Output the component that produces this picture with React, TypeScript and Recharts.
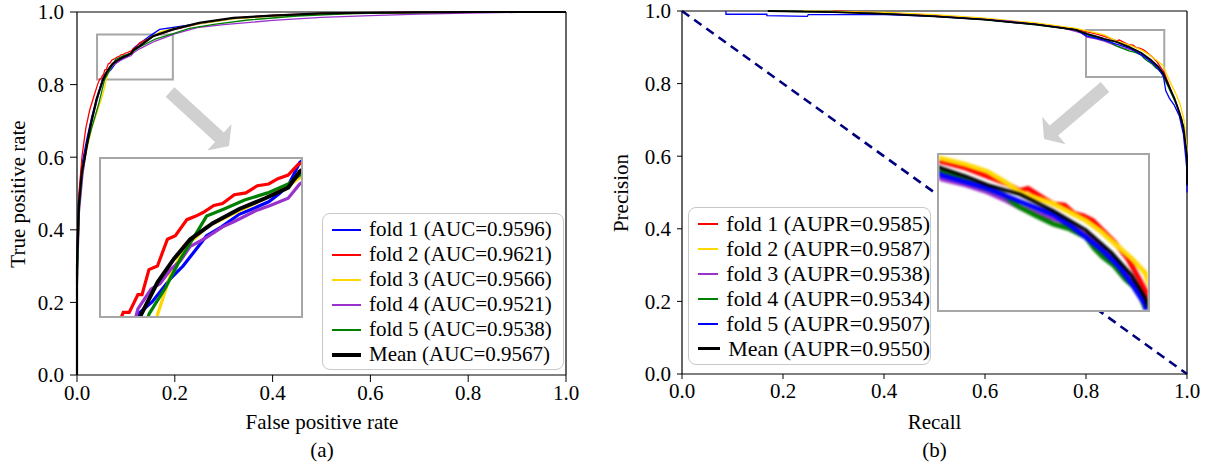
import React from 'react'
import { LineChart, Line, XAxis, YAxis, ReferenceLine, ReferenceArea, Legend } from 'recharts'

type Pt = [number, number]

const TICKS = [0, 0.2, 0.4, 0.6, 0.8, 1.0]

// ROC curves, [false positive rate, true positive rate]
const ROC_FOLD1: Pt[] = [
  [0, 0], [0, 0.35], [0.003, 0.48], [0.01, 0.58], [0.02, 0.65], [0.03, 0.71], [0.04, 0.76], [0.0524, 0.815],
  [0.058, 0.822], [0.0651, 0.835], [0.07, 0.842], [0.0792, 0.859], [0.085, 0.864], [0.0919, 0.871], [0.097, 0.874],
  [0.1034, 0.878], [0.107, 0.882], [0.111, 0.887], [0.1155, 0.9], [0.12, 0.905], [0.13, 0.915], [0.15, 0.935],
  [0.169, 0.952], [0.2, 0.958], [0.25, 0.968], [0.32, 0.982], [0.4, 0.99], [0.5, 0.995], [0.6, 0.998], [0.8, 1], [1, 1],
]
const ROC_FOLD2: Pt[] = [
  [0, 0], [0, 0.3], [0.004, 0.5], [0.01, 0.6], [0.018, 0.68], [0.026, 0.73], [0.035, 0.77], [0.042, 0.8],
  [0.0467, 0.816], [0.049, 0.816], [0.0524, 0.826], [0.054, 0.826], [0.0567, 0.84], [0.06, 0.842], [0.0639, 0.857],
  [0.067, 0.859], [0.0715, 0.868], [0.075, 0.87], [0.0778, 0.872], [0.082, 0.876], [0.0854, 0.877], [0.09, 0.882],
  [0.0945, 0.883], [0.099, 0.887], [0.1034, 0.888], [0.107, 0.891], [0.111, 0.893], [0.1149, 0.899], [0.12, 0.902],
  [0.128, 0.915], [0.16, 0.935], [0.2, 0.952], [0.25, 0.968], [0.32, 0.983], [0.4, 0.991], [0.5, 0.996], [0.6, 0.998],
  [0.75, 1], [1, 1],
]
const ROC_FOLD3: Pt[] = [
  [0, 0], [0, 0.25], [0.005, 0.46], [0.012, 0.56], [0.02, 0.62], [0.03, 0.68], [0.04, 0.72], [0.05, 0.76],
  [0.056, 0.79], [0.0601, 0.815], [0.0651, 0.837], [0.068, 0.845], [0.0701, 0.853], [0.075, 0.858], [0.0792, 0.864],
  [0.085, 0.868], [0.0919, 0.873], [0.098, 0.877], [0.1045, 0.882], [0.11, 0.886], [0.1149, 0.891], [0.12, 0.896],
  [0.13, 0.91], [0.17, 0.945], [0.2, 0.955], [0.25, 0.967], [0.32, 0.981], [0.4, 0.989], [0.5, 0.994], [0.6, 0.997],
  [0.8, 1], [1, 1],
]
const ROC_FOLD4: Pt[] = [
  [0, 0], [0, 0.22], [0.005, 0.45], [0.012, 0.55], [0.02, 0.63], [0.03, 0.7], [0.04, 0.75], [0.0524, 0.818],
  [0.0575, 0.829], [0.061, 0.832], [0.0651, 0.84], [0.069, 0.845], [0.0728, 0.853], [0.078, 0.857], [0.0854, 0.864],
  [0.09, 0.867], [0.0983, 0.873], [0.104, 0.876], [0.111, 0.88], [0.1155, 0.888], [0.12, 0.892], [0.13, 0.9],
  [0.16, 0.92], [0.2, 0.94], [0.25, 0.958], [0.3, 0.965], [0.4, 0.977], [0.5, 0.985], [0.6, 0.99], [0.7, 0.994],
  [0.8, 0.997], [0.9, 0.999], [1, 1],
]
const ROC_FOLD5: Pt[] = [
  [0, 0], [0, 0.2], [0.004, 0.45], [0.01, 0.55], [0.02, 0.63], [0.03, 0.68], [0.045, 0.75], [0.0567, 0.815],
  [0.0632, 0.83], [0.069, 0.846], [0.075, 0.86], [0.0792, 0.87], [0.086, 0.874], [0.094, 0.879], [0.103, 0.883],
  [0.111, 0.888], [0.1155, 0.893], [0.13, 0.905], [0.16, 0.925], [0.2, 0.942], [0.23, 0.955], [0.28, 0.966],
  [0.35, 0.978], [0.45, 0.989], [0.55, 0.995], [0.7, 0.999], [0.85, 1], [1, 1],
]
const ROC_MEAN: Pt[] = [
  [0, 0], [0, 0.3], [0.004, 0.47], [0.01, 0.56], [0.016, 0.6], [0.026, 0.676], [0.04, 0.76], [0.0537, 0.815],
  [0.0601, 0.833], [0.0664, 0.846], [0.0728, 0.857], [0.0816, 0.866], [0.0919, 0.874], [0.1021, 0.88], [0.111, 0.886],
  [0.1155, 0.895], [0.128, 0.906], [0.155, 0.933], [0.196, 0.952], [0.25, 0.97], [0.32, 0.984], [0.4, 0.99],
  [0.5, 0.996], [0.6, 0.998], [0.7, 0.999], [0.8, 1], [1, 1],
]
const ROC_AUC = [0.9596, 0.9621, 0.9566, 0.9521, 0.9538, 0.9567]

// PR curves, [recall, precision]
const PR_FOLD1: Pt[] = [
  [0.3, 1], [0.4, 0.995], [0.5, 0.988], [0.6, 0.978], [0.7, 0.965], [0.78, 0.95], [0.8, 0.943], [0.82, 0.937],
  [0.836, 0.93], [0.85, 0.924], [0.86, 0.918], [0.866, 0.92], [0.873, 0.915], [0.88, 0.91], [0.885, 0.907],
  [0.893, 0.906], [0.9, 0.899], [0.907, 0.897], [0.914, 0.893], [0.922, 0.884], [0.93, 0.875], [0.94, 0.861],
  [0.948, 0.845], [0.955, 0.83], [0.962, 0.805], [0.97, 0.775], [0.98, 0.74], [0.99, 0.69], [0.997, 0.64],
  [1, 0.58], [1, 0.53],
]
const PR_FOLD2: Pt[] = [
  [0.24, 1], [0.4, 0.996], [0.5, 0.99], [0.6, 0.98], [0.7, 0.967], [0.78, 0.952], [0.802, 0.945], [0.82, 0.94],
  [0.836, 0.934], [0.848, 0.926], [0.86, 0.917], [0.872, 0.912], [0.885, 0.907], [0.897, 0.9], [0.909, 0.893],
  [0.92, 0.884], [0.933, 0.871], [0.943, 0.861], [0.953, 0.849], [0.96, 0.825], [0.968, 0.8], [0.977, 0.775],
  [0.986, 0.745], [0.994, 0.7], [1, 0.62], [1, 0.55],
]
const PR_FOLD3: Pt[] = [
  [0.35, 0.995], [0.45, 0.99], [0.55, 0.982], [0.65, 0.972], [0.75, 0.955], [0.79, 0.94], [0.802, 0.928],
  [0.82, 0.923], [0.836, 0.917], [0.848, 0.911], [0.86, 0.904], [0.875, 0.898], [0.89, 0.893], [0.9, 0.887],
  [0.91, 0.88], [0.92, 0.871], [0.93, 0.86], [0.94, 0.846], [0.95, 0.83], [0.96, 0.8], [0.97, 0.77], [0.98, 0.74],
  [0.99, 0.7], [1, 0.6], [1, 0.52],
]
const PR_FOLD4: Pt[] = [
  [0.17, 1], [0.3, 0.997], [0.4, 0.993], [0.5, 0.985], [0.6, 0.976], [0.7, 0.962], [0.78, 0.948], [0.802, 0.935],
  [0.825, 0.924], [0.848, 0.915], [0.855, 0.908], [0.86, 0.904], [0.872, 0.897], [0.885, 0.89], [0.897, 0.886],
  [0.909, 0.879], [0.915, 0.87], [0.921, 0.863], [0.93, 0.855], [0.938, 0.844], [0.944, 0.838], [0.95, 0.828],
  [0.96, 0.8], [0.97, 0.77], [0.98, 0.74], [0.99, 0.7], [1, 0.6], [1, 0.52],
]
const PR_FOLD5: Pt[] = [
  [0.087, 1], [0.087, 0.991], [0.168, 0.991], [0.168, 0.987], [0.248, 0.985], [0.25, 0.99], [0.4, 0.99],
  [0.5, 0.985], [0.6, 0.976], [0.7, 0.963], [0.78, 0.948], [0.802, 0.931], [0.836, 0.92], [0.86, 0.909],
  [0.885, 0.898], [0.897, 0.889], [0.909, 0.879], [0.921, 0.868], [0.933, 0.855], [0.943, 0.84], [0.953, 0.822],
  [0.958, 0.78], [0.965, 0.76], [0.975, 0.74], [0.985, 0.71], [0.993, 0.66], [1, 0.56], [1, 0.5],
]
const PR_MEAN: Pt[] = [
  [0.17, 1], [0.3, 0.997], [0.4, 0.992], [0.5, 0.985], [0.6, 0.976], [0.7, 0.963], [0.78, 0.948], [0.802, 0.937],
  [0.82, 0.93], [0.836, 0.923], [0.86, 0.915], [0.885, 0.901], [0.909, 0.885], [0.928, 0.866], [0.943, 0.847],
  [0.953, 0.828], [0.965, 0.79], [0.975, 0.76], [0.985, 0.72], [0.993, 0.68], [1, 0.6], [1, 0.52],
]
const PR_BASELINE: Pt[] = [[0, 1], [1, 0]]
const PR_AUPR = [0.9585, 0.9587, 0.9538, 0.9534, 0.9507, 0.955]

const SERIES_NAMES = ['fold 1', 'fold 2', 'fold 3', 'fold 4', 'fold 5', 'Mean']
const ROC_COLORS = ['#0000ff', '#ff0000', '#ffd700', '#9932cc', '#008000', '#000000']
const PR_COLORS = ['#ff0000', '#ffd700', '#9932cc', '#008000', '#0000ff', '#000000']

const ROC_SERIES = [ROC_FOLD1, ROC_FOLD2, ROC_FOLD3, ROC_FOLD4, ROC_FOLD5, ROC_MEAN]
const PR_SERIES = [PR_FOLD1, PR_FOLD2, PR_FOLD3, PR_FOLD4, PR_FOLD5, PR_MEAN]

const rows = (pts: Pt[]) => pts.map(([x, y]) => ({ x, y }))

const FONT = '"Liberation Serif", "Times New Roman", serif'
const FRAME = '#a6a6a6'
const ARROW = '#d0d0d0'

const axisProps = (tickSize: number, tickMargin: number) => ({
  type: 'number' as const,
  domain: [0, 1],
  ticks: TICKS,
  interval: 0 as const,
  tickFormatter: (v: number) => v.toFixed(1),
  tick: { fontSize: 21, fill: '#000' },
  tickLine: { stroke: '#000' },
  axisLine: { stroke: '#000', strokeWidth: 1.2 },
  tickSize,
  tickMargin,
})

function LegendBox({ labels, colors, widths, width, height, fontSize }: {
  labels: string[]; colors: string[]; widths: number[]; width: number; height: number; fontSize: number
}) {
  return (
    <div style={{
      width, height, boxSizing: 'border-box', border: '1.5px solid #c8c8c8', borderRadius: 8,
      background: 'rgba(255,255,255,0.85)', paddingTop: 3, fontSize, color: '#000', fontFamily: FONT,
    }}>
      {labels.map((l, i) => (
        <div key={i} style={{ display: 'flex', alignItems: 'center', height: 25 }}>
          <span style={{ display: 'inline-block', width: 29, height: widths[i], background: colors[i], marginLeft: 9, marginRight: 8 }} />
          <span style={{ whiteSpace: 'nowrap' }}>{l}</span>
        </div>
      ))}
    </div>
  )
}

function arrowPoints(sx: number, sy: number, tx: number, ty: number, w: number, hw: number, hl: number) {
  const len = Math.hypot(tx - sx, ty - sy)
  const ux = (tx - sx) / len
  const uy = (ty - sy) / len
  const nx = -uy
  const ny = ux
  const bx = tx - ux * hl
  const by = ty - uy * hl
  const p = [
    [sx + nx * w, sy + ny * w],
    [bx + nx * w, by + ny * w],
    [bx + nx * hw, by + ny * hw],
    [tx, ty],
    [bx - nx * hw, by - ny * hw],
    [bx - nx * w, by - ny * w],
    [sx - nx * w, sy - ny * w],
  ]
  return p.map((q) => q.join(',')).join(' ')
}

function RocPanel() {
  const labels = SERIES_NAMES.map((n, i) => `${n} (AUC=${ROC_AUC[i].toFixed(4)})`)
  return (
    <div style={{ position: 'absolute', left: 0, top: 0 }}>
      <LineChart width={600} height={464} margin={{ top: 12, right: 34, bottom: 59, left: 17 }}>
        <XAxis dataKey="x" height={30} {...axisProps(7, 3)} />
        <YAxis dataKey="y" width={60} {...axisProps(7, 6)} />
        <ReferenceLine y={1} stroke="#000" strokeWidth={1.2} />
        <ReferenceLine x={1} stroke="#000" strokeWidth={1.2} />
        {ROC_SERIES.map((s, i) => (
          <Line key={i} data={rows(s)} dataKey="y" name={labels[i]} stroke={ROC_COLORS[i]}
            strokeWidth={i === 5 ? 2.2 : 1.3} dot={false} activeDot={false} isAnimationActive={false} />
        ))}
        <ReferenceArea x1={0.041} x2={0.196} y1={0.814} y2={0.938} fill="none" stroke={FRAME} strokeWidth={2} />
        <Legend layout="vertical" align="center" verticalAlign="middle"
          wrapperStyle={{ left: 322, top: 213, width: 242, height: 157 }}
          content={() => <LegendBox labels={labels} colors={ROC_COLORS} widths={[2, 2, 2, 2, 2, 4]} width={242} height={157} fontSize={21} />} />
      </LineChart>
      <div style={{ position: 'absolute', left: 99, top: 157, width: 204, height: 161, boxSizing: 'border-box', border: `2px solid ${FRAME}`, background: '#fff', overflow: 'hidden' }}>
        <div style={{ filter: 'blur(0.6px)' }}>
          <LineChart width={200} height={157} margin={{ top: 0, right: 0, bottom: 0, left: 0 }}>
            <XAxis dataKey="x" type="number" domain={[0.038, 0.116]} allowDataOverflow hide />
            <YAxis dataKey="y" type="number" domain={[0.814, 0.902]} allowDataOverflow hide />
            {ROC_SERIES.map((s, i) => (
              <Line key={i} data={rows(s)} dataKey="y" stroke={ROC_COLORS[i]} strokeWidth={i === 5 ? 4 : 3.2}
                dot={false} activeDot={false} isAnimationActive={false} />
            ))}
          </LineChart>
        </div>
      </div>
    </div>
  )
}

function PrPanel() {
  const labels = SERIES_NAMES.map((n, i) => `${n} (AUPR=${PR_AUPR[i].toFixed(4)})`)
  return (
    <div style={{ position: 'absolute', left: 600, top: 0 }}>
      <LineChart width={608} height={464} margin={{ top: 11, right: 21, bottom: 60, left: 22 }}>
        <XAxis dataKey="x" height={30} {...axisProps(5, 4)} />
        <YAxis dataKey="y" width={60} {...axisProps(5, 6)} />
        <ReferenceLine y={1} stroke="#000" strokeWidth={1.2} />
        <ReferenceLine x={1} stroke="#000" strokeWidth={1.2} />
        <Line data={rows(PR_BASELINE)} dataKey="y" stroke="#00007f" strokeWidth={2.6} strokeDasharray="9 6"
          dot={false} activeDot={false} isAnimationActive={false} legendType="none" />
        {PR_SERIES.map((s, i) => (
          <Line key={i} data={rows(s)} dataKey="y" name={labels[i]} stroke={PR_COLORS[i]}
            strokeWidth={i === 5 ? 1.8 : 1.3} dot={false} activeDot={false} isAnimationActive={false} />
        ))}
        <ReferenceArea x1={0.8} x2={0.955} y1={0.818} y2={0.948} fill="none" stroke={FRAME} strokeWidth={2} />
        <Legend layout="vertical" align="center" verticalAlign="middle"
          wrapperStyle={{ left: 88, top: 207, width: 243, height: 158 }}
          content={() => <LegendBox labels={labels} colors={PR_COLORS} widths={[2, 2, 2, 2, 2, 3]} width={243} height={158} fontSize={22} />} />
      </LineChart>
      <div style={{ position: 'absolute', left: 337, top: 153, width: 213, height: 159, boxSizing: 'border-box', border: `2px solid ${FRAME}`, background: '#fff', overflow: 'hidden' }}>
        <div style={{ filter: 'blur(0.8px)' }}>
          <LineChart width={209} height={155} margin={{ top: 0, right: 0, bottom: 0, left: 0 }}>
            <XAxis dataKey="x" type="number" domain={[0.8, 0.955]} allowDataOverflow hide />
            <YAxis dataKey="y" type="number" domain={[0.818, 0.948]} allowDataOverflow hide />
            {PR_SERIES.map((s, i) => (
              <Line key={i} data={rows(s)} dataKey="y" stroke={PR_COLORS[i]} strokeWidth={i === 5 ? 3.5 : 5}
                dot={false} activeDot={false} isAnimationActive={false} />
            ))}
          </LineChart>
        </div>
      </div>
    </div>
  )
}

export default function App() {
  return (
    <div style={{ position: 'absolute', left: 0, top: 0, width: 1208, height: 464, background: '#fff', fontFamily: FONT, overflow: 'hidden' }}>
      <RocPanel />
      <PrPanel />
      <svg width={1208} height={464} style={{ position: 'absolute', left: 0, top: 0, pointerEvents: 'none' }}
        fontFamily={FONT} fontSize={21} fill="#000">
        <polygon points={arrowPoints(170, 92, 229, 146, 6.5, 18, 13)} fill={ARROW} />
        <polygon points={arrowPoints(1105, 87, 1044, 139, 6.5, 18, 13)} fill={ARROW} />
        <text x={17.5} y={194} textAnchor="middle" dominantBaseline="central" transform="rotate(-90 17.5 194)">True positive rate</text>
        <text x={322} y={422} textAnchor="middle" dominantBaseline="central">False positive rate</text>
        <text x={322} y={450} textAnchor="middle" dominantBaseline="central">(a)</text>
        <text x={621} y={193} textAnchor="middle" dominantBaseline="central" transform="rotate(-90 621 193)">Precision</text>
        <text x={934.5} y={422} textAnchor="middle" dominantBaseline="central">Recall</text>
        <text x={934.5} y={450} textAnchor="middle" dominantBaseline="central">(b)</text>
      </svg>
    </div>
  )
}
